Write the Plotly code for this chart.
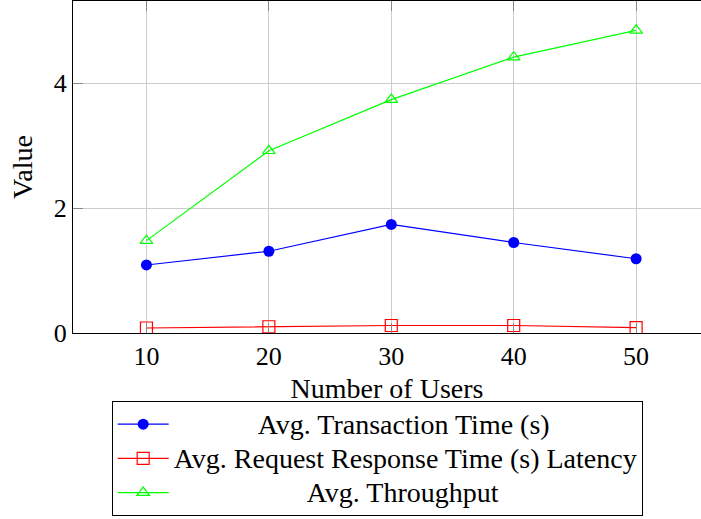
import plotly.graph_objects as go

users = [10, 20, 30, 40, 50]
transaction_time = [1.09, 1.31, 1.74, 1.45, 1.19]
response_latency = [0.08, 0.10, 0.12, 0.12, 0.085]
throughput = [1.48, 2.92, 3.74, 4.42, 4.85]

x_ticks = [10, 20, 30, 40, 50]
y_ticks = [0, 2, 4]

names = [
    "Avg. Transaction Time (s)",
    "Avg. Request Response Time (s) Latency",
    "Avg. Throughput",
]
pads = [12, 0, 19]

NB = "\u00a0"
FONT = "'Liberation Serif', 'Times New Roman', Times, serif"


def legend_name(name, pad):
    return '<span style="font-size:28px">' + NB * pad + name + "</span>"


fig = go.Figure()
fig.add_trace(go.Scatter(
    x=users, y=transaction_time, mode="lines+markers",
    name=legend_name(names[0], pads[0]),
    line=dict(color="#0000ff", width=1.2),
    marker=dict(symbol="circle", size=11, color="#0000ff"),
))
fig.add_trace(go.Scatter(
    x=users, y=response_latency, mode="lines+markers",
    name=legend_name(names[1], pads[1]),
    line=dict(color="#ff0000", width=1.2),
    marker=dict(symbol="square-open", size=12, color="#ff0000", line=dict(width=1.2)),
))
fig.add_trace(go.Scatter(
    x=users, y=throughput, mode="lines+markers",
    name=legend_name(names[2], pads[2]),
    line=dict(color="#00ff00", width=1.2),
    marker=dict(symbol="triangle-up-open", size=11, color="#00ff00", line=dict(width=1.2)),
))

fig.update_layout(
    width=701, height=519,
    margin=dict(l=73, r=0, t=1, b=186, autoexpand=False),
    paper_bgcolor="white", plot_bgcolor="white",
    font=dict(family=FONT, size=26, color="black"),
    showlegend=True,
    legend=dict(
        x=0.0616, xanchor="left", y=-0.205, yanchor="top",
        bgcolor="white", bordercolor="black", borderwidth=1,
        font=dict(family=FONT, size=24, color="black"),
        itemwidth=51,
    ),
)
fig.update_xaxes(
    range=[4, 55.3], tickvals=x_ticks, ticktext=[str(v) for v in x_ticks],
    showgrid=True, gridcolor="#cccccc", gridwidth=1,
    showline=True, linecolor="black", linewidth=1.2, mirror="ticks",
    ticks="inside", ticklen=10, tickcolor="#888888", tickwidth=1,
    zeroline=False,
    tickfont=dict(family=FONT, size=26),
    title=dict(text="Number of Users", font=dict(family=FONT, size=28), standoff=8),
    automargin=False,
)
fig.update_yaxes(
    range=[0, 5.32], tickvals=y_ticks, ticktext=[str(v) for v in y_ticks],
    showgrid=True, gridcolor="#cccccc", gridwidth=1,
    showline=True, linecolor="black", linewidth=1.2, mirror=False,
    ticks="inside", ticklen=10, tickcolor="#888888", tickwidth=1,
    zeroline=False,
    tickfont=dict(family=FONT, size=26),
    title=dict(text="Value", font=dict(family=FONT, size=28), standoff=12),
    automargin=False,
)

fig.write_html(
    "out.html",
    config={"displayModeBar": False},
    post_script="document.body.style.margin='0';",
)
